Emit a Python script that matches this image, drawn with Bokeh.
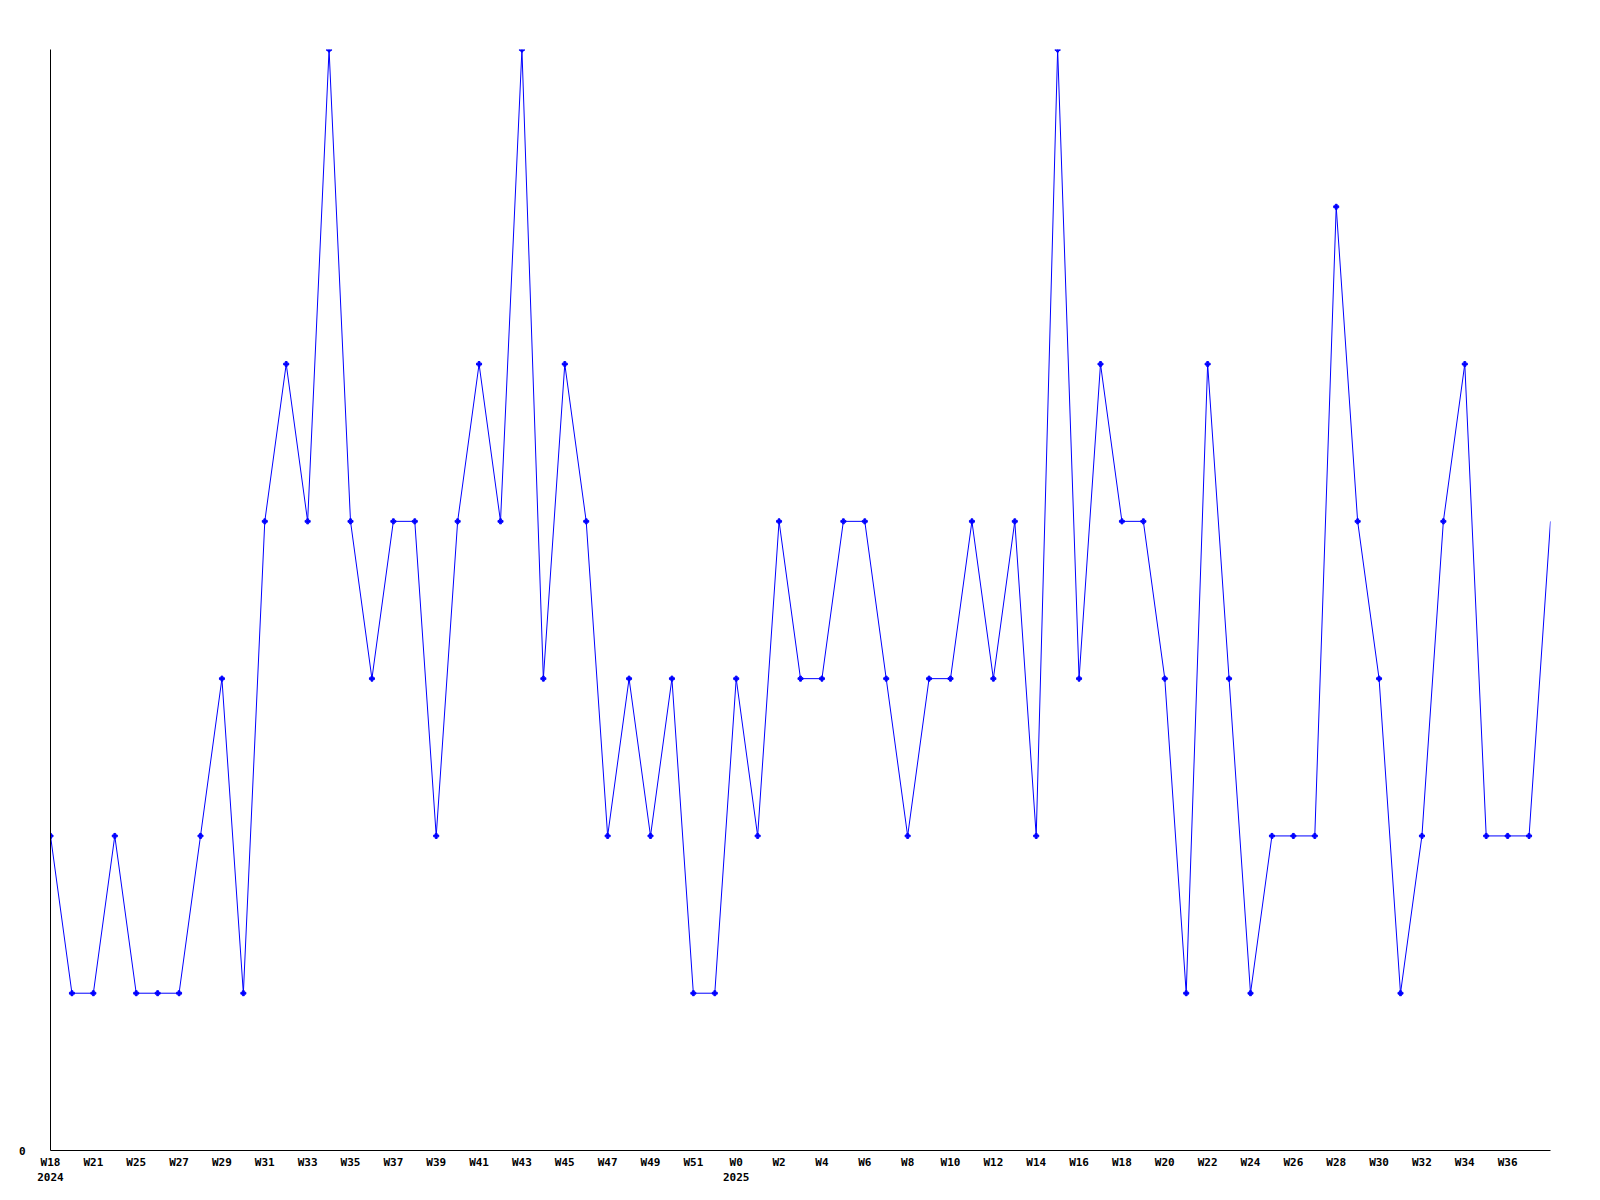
from bokeh.plotting import figure
from bokeh.models import FixedTicker, Range1d
from bokeh.embed import file_html
from bokeh.resources import INLINE

# weekly values (index = week position)
values = [2, 1, 1, 2, 1, 1, 1, 2, 3, 1,
          4, 5, 4, 7, 4, 3, 4, 4, 2, 4,
          5, 4, 7, 3, 5, 4, 2, 3, 2, 3,
          1, 1, 3, 2, 4, 3, 3, 4, 4, 3,
          2, 3, 3, 4, 3, 4, 2, 7, 3, 5,
          4, 4, 3, 1, 5, 3, 1, 2, 2, 2,
          6, 4, 3, 1, 2, 4, 5, 2, 2, 2,
          4]
xs = list(range(len(values)))

tick_labels = ["W18\n2024", "W21", "W25", "W27", "W29", "W31", "W33", "W35", "W37",
               "W39", "W41", "W43", "W45", "W47", "W49", "W51", "W0\n2025", "W2",
               "W4", "W6", "W8", "W10", "W12", "W14", "W16", "W18", "W20", "W22",
               "W24", "W26", "W28", "W30", "W32", "W34", "W36"]
tick_pos = [2 * i for i in range(len(tick_labels))]

p = figure(width=1584, height=1194, output_backend="svg", toolbar_location=None,
           x_range=Range1d(0, len(values) - 1), y_range=Range1d(0, 7),
           min_border_left=50, min_border_right=34, min_border_top=49,
           min_border_bottom=44)
p.outline_line_color = None
p.grid.visible = False

p.line(xs, values, line_color="#0000ff", line_width=1)
p.scatter(xs[:-1], values[:-1], marker="plus", size=5, color="#0000ff")

font = "DejaVu Sans Mono"
p.xaxis.ticker = FixedTicker(ticks=tick_pos)
p.xaxis.major_label_overrides = {t: l for t, l in zip(tick_pos, tick_labels)}
p.yaxis.ticker = FixedTicker(ticks=[0])
for ax in (p.xaxis, p.yaxis):
    ax.major_tick_line_color = None
    ax.minor_tick_line_color = None
    ax.axis_line_color = "black"
    ax.axis_line_width = 1
    ax.major_label_text_font = font
    ax.major_label_text_font_style = "bold"
    ax.major_label_text_font_size = "11px"
    ax.major_label_text_color = "black"
p.xaxis.major_label_standoff = -1
p.yaxis.major_label_standoff = 19

open("out.html", "w").write(file_html(p, INLINE))
